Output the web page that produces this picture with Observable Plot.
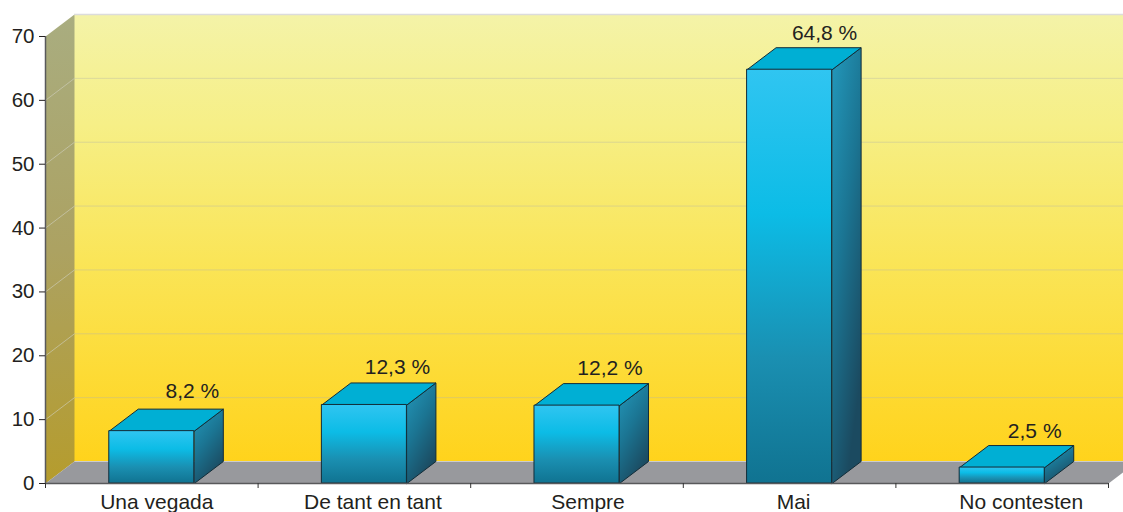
<!DOCTYPE html>
<html><head><meta charset="utf-8">
<script src="https://cdn.jsdelivr.net/npm/d3@7"></script>
<script src="https://cdn.jsdelivr.net/npm/@observablehq/plot@0.6"></script>
<style>html,body{margin:0;padding:0;background:#fff;overflow:hidden}svg{display:block}</style>
</head><body><div id="chart"></div>
<script>
const categories = ["Una vegada", "De tant en tant", "Sempre", "Mai", "No contesten"];
const values = [8.2, 12.3, 12.2, 64.8, 2.5];
const valueLabels = ["8,2 %", "12,3 %", "12,2 %", "64,8 %", "2,5 %"];
const yTicks = [0, 10, 20, 30, 40, 50, 60, 70];

const INK = "#231f20", FONT = "Liberation Sans, Arial, sans-serif";
const depthX = 0.1364, depthY = 3.445, barHalf = 0.2;
const yTop = 70 + depthY, nCat = categories.length;
const labelNudge = [[40.5, -11], [33, -8.5], [33, -8.5], [35, -7.5], [32.5, -7.5]];
const categoryNudge = [5, 8.5, 11, 4, 19];

const poly = (pts, fill, extra = {}) =>
  Plot.line(pts.map(([x, y]) => ({x, y})), {x: "x", y: "y", curve: "linear-closed", fill, stroke: "none", ...extra});

const defs = () => d3.create("svg:defs").html(`
  <linearGradient id="wall" x1="0" y1="0" x2="0" y2="1">
    <stop offset="0" stop-color="#f4f3a8"/><stop offset="0.25" stop-color="#f6ef86"/>
    <stop offset="0.55" stop-color="#fae558"/><stop offset="0.8" stop-color="#fddb36"/><stop offset="1" stop-color="#ffd31c"/>
  </linearGradient>
  <linearGradient id="leftWall" x1="0" y1="0" x2="0" y2="1">
    <stop offset="0" stop-color="#a9ad80"/><stop offset="0.5" stop-color="#aca262"/><stop offset="1" stop-color="#b59c2d"/>
  </linearGradient>
  <linearGradient id="front" x1="0" y1="0" x2="0" y2="1">
    <stop offset="0" stop-color="#30c5f1"/><stop offset="0.35" stop-color="#0cbce6"/>
    <stop offset="0.7" stop-color="#1a8fb1"/><stop offset="1" stop-color="#107391"/>
  </linearGradient>
  <linearGradient id="side" x1="0" y1="0" x2="0.5" y2="1">
    <stop offset="0" stop-color="#2399bc"/><stop offset="0.5" stop-color="#1b7593"/><stop offset="1" stop-color="#1b4a60"/>
  </linearGradient>`).node();

const wallGrid = yTicks.filter(v => v > 0 && v < 70);
const marks = [
  defs,
  Plot.rect([0], {x1: depthX, x2: nCat + depthX, y1: depthY, y2: yTop, fill: "url(#wall)"}),
  poly([[0, 0], [depthX, depthY], [depthX, yTop], [0, 70]], "url(#leftWall)"),
  poly([[0, 0], [depthX, depthY], [nCat + depthX, depthY], [nCat, 0]], "#98999d"),
  Plot.ruleY(wallGrid, {y: v => v + depthY, x1: depthX, x2: nCat + depthX, stroke: "#b4b4a8", strokeOpacity: 0.4, strokeWidth: 1}),
  Plot.link(wallGrid, {x1: 0, y1: v => v, x2: depthX, y2: v => v + depthY, stroke: "#d0d0c0", strokeOpacity: 0.6, strokeWidth: 1}),
  Plot.ruleY([yTop], {x1: depthX, x2: nCat + depthX, stroke: "#dcdcdc", strokeWidth: 1.5}),
];

values.forEach((v, i) => {
  const L = i + 0.5 - barHalf, R = i + 0.5 + barHalf;
  const outline = {stroke: "#122c38", strokeWidth: 1, strokeLinejoin: "round"};
  marks.push(
    poly([[R, 0], [R + depthX, depthY], [R + depthX, v + depthY], [R, v]], "url(#side)", outline),
    poly([[L, v], [L + depthX, v + depthY], [R + depthX, v + depthY], [R, v]], "#00afd4", outline),
    Plot.rect([v], {x1: L, x2: R, y1: 0, y2: v, fill: "url(#front)", ...outline}),
    Plot.text([valueLabels[i]], {
      x: i + 0.5, y: v + depthY, text: d => d,
      dx: labelNudge[i][0], dy: labelNudge[i][1],
      lineAnchor: "bottom", fontSize: 21, fill: INK
    }),
    Plot.text([categories[i]], {
      x: i + 0.5, y: 0, text: d => d, dx: categoryNudge[i], dy: 25,
      lineAnchor: "bottom", fontSize: 21, fill: INK
    })
  );
});

marks.push(
  Plot.ruleY([0], {x1: 0, x2: nCat, stroke: "#58595b", strokeWidth: 1.5}),
  Plot.ruleX([0], {y1: 0, y2: 70, stroke: "#58595b", strokeWidth: 1.5}),
  Plot.axisY({ticks: yTicks, tickSize: 6, tickPadding: 5, label: null, fontSize: 20.5, color: INK, tickFormat: d => d}),
  Plot.axisX({ticks: d3.range(nCat + 1), tickSize: 5, tickFormat: () => "", label: null, color: "#333"})
);

const chart = Plot.plot({
  width: 1123, height: 512,
  marginLeft: 45, marginRight: 15, marginTop: 14, marginBottom: 29,
  x: {domain: [0, nCat]},
  y: {domain: [0, yTop]},
  style: {fontFamily: FONT, background: "#fff", overflow: "hidden"},
  marks
});
document.getElementById("chart").append(chart);
</script></body></html>
